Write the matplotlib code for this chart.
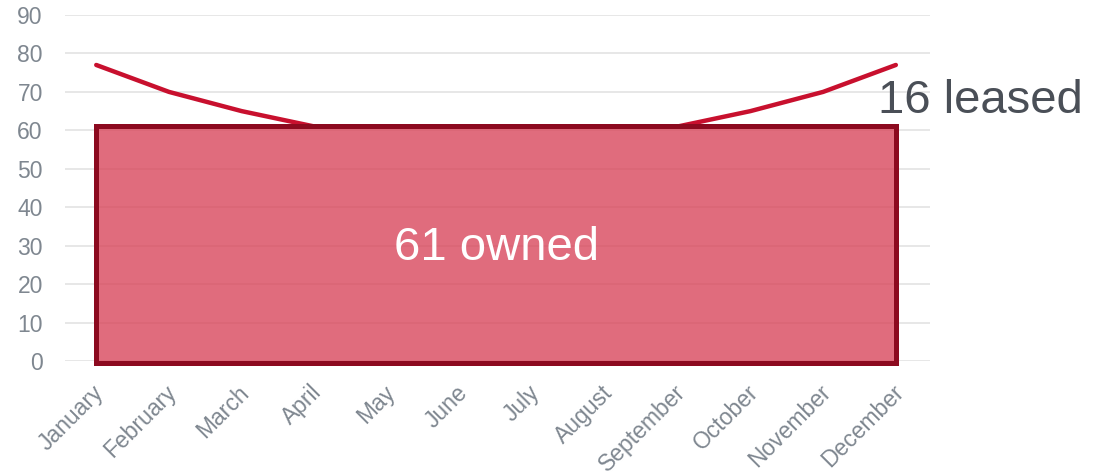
import matplotlib.pyplot as plt
import matplotlib.transforms as mtransforms
from matplotlib.patches import Rectangle

months = ["January", "February", "March", "April", "May", "June", "July",
          "August", "September", "October", "November", "December"]
total = [77, 70, 65, 61, 61, 61, 61, 61, 61, 65, 70, 77]
owned = 61
leased = 16

plt.rcParams['font.family'] = ['Liberation Sans', 'DejaVu Sans']

fig = plt.figure(figsize=(11.09, 4.76), dpi=100)
ax = fig.add_axes([0.0586, 0.2416, 0.7800, 0.7269])

x = list(range(len(months)))
ax.plot(x, total, color='#c8102e', lw=3.2, solid_capstyle='round', zorder=3)

# owned block
ax.add_patch(Rectangle((0, -0.4), len(months) - 1, owned + 0.6, facecolor='#d84358',
                       alpha=0.78, edgecolor='none', zorder=2, clip_on=False))
ax.add_patch(Rectangle((0, -0.4), len(months) - 1, owned + 0.6, facecolor='none',
                       edgecolor='#8c0a1f', lw=3.6, zorder=4, clip_on=False))

ax.text((len(months) - 1) / 2, owned / 2 - 1.2, f"{owned} owned", color='white',
        fontsize=34, ha='center', va='center', zorder=5)
ax.text(10.75, 67.6, f"{leased} leased", color='#4a4f57', fontsize=34,
        ha='left', va='center', zorder=5, clip_on=False)

ax.set_xlim(-0.43, 11.47)
ax.set_ylim(0, 90)
ax.set_yticks(range(0, 91, 10))
ax.set_xticks(x)
ax.set_xticklabels(months, rotation=45, ha='right', va='top', rotation_mode='anchor')
ax.tick_params(axis='both', length=0, colors='#7f8790', labelsize=16.5)
ax.tick_params(axis='y', pad=16)
ax.tick_params(axis='x', pad=15)
shift = mtransforms.ScaledTranslation(-4 / 100, 1 / 100, fig.dpi_scale_trans)
for lbl in ax.get_xticklabels():
    lbl.set_transform(lbl.get_transform() + shift)
ax.grid(axis='y', color='#e3e3e3', lw=1.2)
ax.set_axisbelow(True)
for s in ax.spines.values():
    s.set_visible(False)

fig.savefig('out.png', dpi=100)
